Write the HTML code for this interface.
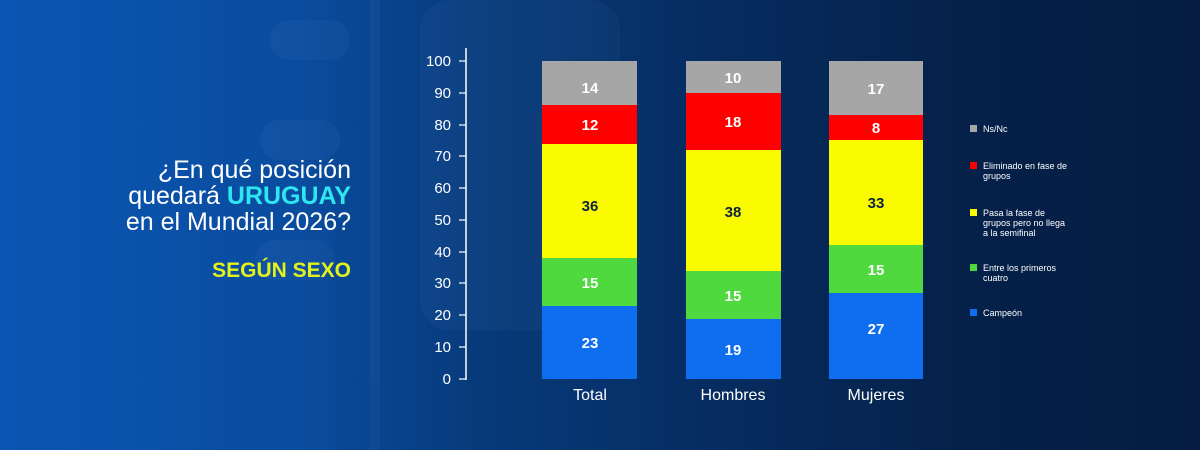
<!DOCTYPE html>
<html><head><meta charset="utf-8"><style>
html,body{margin:0;padding:0}
body{width:1200px;height:450px;overflow:hidden;background:linear-gradient(90deg,#0b56b3 0%,#0a4c9e 25%,#073a7a 40%,#062c60 60%,#05214a 80%,#051c40 100%);font-family:"Liberation Sans",sans-serif;position:relative}
</style></head><body>
<svg width="1200" height="450" style="position:absolute;left:0;top:0" font-family="Liberation Sans, sans-serif">
<g opacity="0.05" fill="#8fb4e8">
<rect x="370" y="0" width="10" height="450"/>
<rect x="420" y="0" width="200" height="330" rx="30"/>
<rect x="270" y="20" width="80" height="40" rx="20"/>
<rect x="260" y="120" width="80" height="40" rx="20"/>
<rect x="255" y="240" width="80" height="40" rx="20"/>
</g>
<g text-anchor="end" font-size="25" fill="#fff">
<text x="351" y="178">¿En qué posición</text>
<text x="351" y="204">quedará <tspan fill="#2ee6f0" font-weight="bold">URUGUAY</tspan></text>
<text x="351" y="230">en el Mundial 2026?</text>
<text x="351" y="277" fill="#e3f21a" font-weight="bold" font-size="21">SEGÚN SEXO</text>
</g>
<line x1="466" y1="48" x2="466" y2="380" stroke="#fff" stroke-width="1.5"/>
<g fill="#fff" font-size="15" text-anchor="end">
<text x="451" y="66">100</text><text x="451" y="98">90</text><text x="451" y="130">80</text><text x="451" y="161">70</text><text x="451" y="193">60</text><text x="451" y="225">50</text><text x="451" y="257">40</text><text x="451" y="288">30</text><text x="451" y="320">20</text><text x="451" y="352">10</text><text x="451" y="384">0</text>
</g>
<g stroke="#fff" stroke-width="1.2">
<line x1="459" y1="61" x2="466" y2="61"/><line x1="459" y1="93" x2="466" y2="93"/><line x1="459" y1="125" x2="466" y2="125"/><line x1="459" y1="156" x2="466" y2="156"/><line x1="459" y1="188" x2="466" y2="188"/><line x1="459" y1="220" x2="466" y2="220"/><line x1="459" y1="252" x2="466" y2="252"/><line x1="459" y1="283" x2="466" y2="283"/><line x1="459" y1="315" x2="466" y2="315"/><line x1="459" y1="347" x2="466" y2="347"/><line x1="459" y1="379" x2="466" y2="379"/>
</g>
<rect x="542" y="306" width="95" height="73" fill="#0f6ef0"/>
<rect x="542" y="258" width="95" height="48" fill="#4fd93f"/>
<rect x="542" y="144" width="95" height="114" fill="#fbfb00"/>
<rect x="542" y="105" width="95" height="39" fill="#ff0000"/>
<rect x="542" y="61" width="95" height="44" fill="#a6a6a6"/>
<rect x="686" y="319" width="95" height="60" fill="#0f6ef0"/>
<rect x="686" y="271" width="95" height="48" fill="#4fd93f"/>
<rect x="686" y="150" width="95" height="121" fill="#fbfb00"/>
<rect x="686" y="93" width="95" height="57" fill="#ff0000"/>
<rect x="686" y="61" width="95" height="32" fill="#a6a6a6"/>
<rect x="829" y="293" width="94" height="86" fill="#0f6ef0"/>
<rect x="829" y="245" width="94" height="48" fill="#4fd93f"/>
<rect x="829" y="140" width="94" height="105" fill="#fbfb00"/>
<rect x="829" y="115" width="94" height="25" fill="#ff0000"/>
<rect x="829" y="61" width="94" height="54" fill="#a6a6a6"/>
<g font-size="15" font-weight="bold" text-anchor="middle" fill="#fff">
<text x="590" y="348">23</text><text x="590" y="288">15</text><text x="590" y="211" fill="#0b2240">36</text><text x="590" y="130">12</text><text x="590" y="93">14</text>
<text x="733" y="355">19</text><text x="733" y="301">15</text><text x="733" y="217" fill="#0b2240">38</text><text x="733" y="127">18</text><text x="733" y="83">10</text>
<text x="876" y="334">27</text><text x="876" y="275">15</text><text x="876" y="208" fill="#0b2240">33</text><text x="876" y="133">8</text><text x="876" y="94">17</text>
</g>
<g fill="#fff" font-size="16" text-anchor="middle">
<text x="590" y="400">Total</text><text x="733" y="400">Hombres</text><text x="876" y="400">Mujeres</text>
</g>
<g font-size="9" fill="#fff">
<rect x="970" y="125" width="7" height="7" fill="#a6a6a6"/><text x="983" y="132">Ns/Nc</text>
<rect x="970" y="162" width="7" height="7" fill="#ff0000"/><text x="983" y="169">Eliminado en fase de</text><text x="983" y="179">grupos</text>
<rect x="970" y="209" width="7" height="7" fill="#fbfb00"/><text x="983" y="216">Pasa la fase de</text><text x="983" y="226">grupos pero no llega</text><text x="983" y="236">a la semifinal</text>
<rect x="970" y="264" width="7" height="7" fill="#4fd93f"/><text x="983" y="271">Entre los primeros</text><text x="983" y="281">cuatro</text>
<rect x="970" y="309" width="7" height="7" fill="#0f6ef0"/><text x="983" y="316">Campeón</text>
</g>
</svg>
</body></html>
